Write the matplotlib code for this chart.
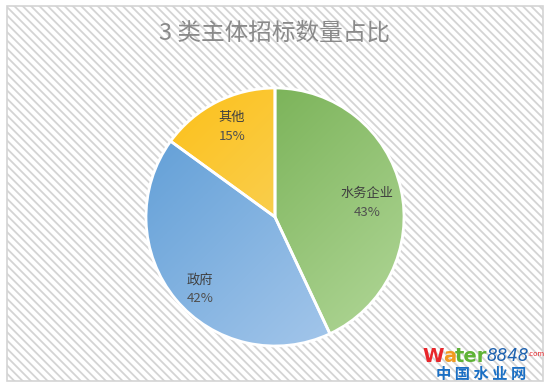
import numpy as np
import matplotlib
matplotlib.use("Agg")
import matplotlib.pyplot as plt
from matplotlib.colors import LinearSegmentedColormap
from matplotlib.patches import Rectangle

plt.rcParams["font.family"] = ["Noto Sans CJK SC", "DejaVu Sans"]
plt.rcParams["hatch.linewidth"] = 1.3
plt.rcParams["hatch.color"] = "#ededed"

# 数据
labels = ["水务企业", "政府", "其他"]
shares = [43, 42, 15]
dark_cols = ["#6aa845", "#5b9bd5", "#fdbf14"]
light_cols = ["#b3d89a", "#afcdee", "#f6dd86"]
title = "3 类主体招标数量占比"

W, H = 551, 391
fig = plt.figure(figsize=(W / 100, H / 100), dpi=100)
ax = fig.add_axes([0, 0, 1, 1])
ax.set_xlim(0, W); ax.set_ylim(0, H)
ax.set_aspect("equal"); ax.axis("off")

# 背景 + 斜纹
ax.add_patch(Rectangle((7, H - 381), 536, 375, facecolor="white",
                       edgecolor="#d4d4d4", lw=1.2, hatch="\\\\\\\\", zorder=0))

cx, cy, r = 275, H - 217, 129
wedges, _ = ax.pie(shares, center=(cx, cy), radius=r, startangle=90,
                   counterclock=False, wedgeprops=dict(ec="white", lw=2),
                   frame=False)
ax.set_xlim(0, W); ax.set_ylim(0, H)

yy, xx = np.mgrid[0:1:200j, 0:1:200j]
grad = (xx + yy) / 2
for w, c0, c1 in zip(wedges, dark_cols, light_cols):
    cmap = LinearSegmentedColormap.from_list("g", [c0, c1])
    im = ax.imshow(grad, cmap=cmap, extent=(cx - r, cx + r, cy - r, cy + r),
                   origin="upper", zorder=2, interpolation="bilinear")
    im.set_clip_path(w)
    w.set_facecolor("none"); w.set_zorder(3)

# 标签
pos = [(367, 193), (200, 280), (232, 117)]
for (x, y), lab, v in zip(pos, labels, shares):
    ax.text(x, H - y, lab, ha="center", va="center", fontsize=9.5,
            color="#404040", zorder=5)
    ax.text(x, H - y - 19, f"{v}%", ha="center", va="center", fontsize=9.5,
            color="#505050", zorder=5)

ax.text(W / 2 - 1, H - 33, title, ha="center", va="center", fontsize=17,
        color="#8a8a8a", zorder=5)

# 右下角水印：逐段拼接
pieces = [("W", "#e8262b", 14, "bold", "normal"),
          ("a", "#f29a1f", 14, "bold", "normal"),
          ("ter", "#5fb336", 14, "bold", "normal"),
          ("8848", "#1e62b0", 12, "normal", "italic"),
          (".com", "#e8262b", 5, "normal", "normal")]
fig.canvas.draw()
rend = fig.canvas.get_renderer()
x = 422
for s, c, fs, fw, st in pieces:
    t = ax.text(x, H - 356, s, color=c, fontsize=fs, fontweight=fw, style=st,
                va="baseline" if fs < 8 else "center", family="DejaVu Sans",
                zorder=6)
    bb = t.get_window_extent(rend)
    x += bb.width * 0.96
ax.text(481, H - 374, "中 国 水 业 网", color="#1a6fc4", fontsize=11,
        fontweight="bold", ha="center", va="center", zorder=6)

fig.savefig("out.png", dpi=100)
